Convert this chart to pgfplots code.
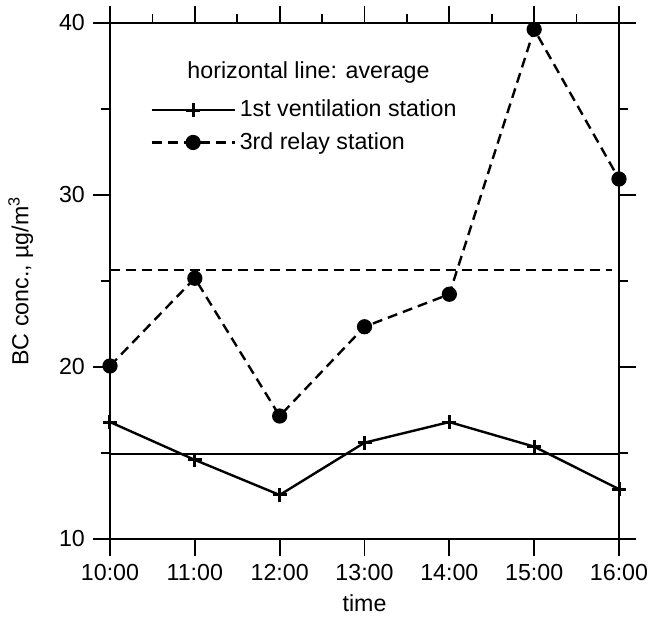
\documentclass[border=0pt]{standalone}
\usepackage{fontspec}
\setmainfont{Liberation Sans}
\usepackage{pgfplots}
\pgfplotsset{compat=1.18}
\begin{document}
\fontsize{11.6}{13.9}\selectfont
\begin{tikzpicture}
\useasboundingbox (-55pt,-44pt) rectangle (270.5pt,269.5pt);
\pgfplotsset{
  common/.style={
    scale only axis, width=254.5pt, height=258pt,
    xmin=10, xmax=16, ymin=10, ymax=40,
    tick align=outside,
    major tick length=8.5pt, minor tick length=4.5pt,
    every tick/.append style={black, line width=0.9pt},
    /pgf/number format/assume math mode=true,
    tick label style={font=\fontsize{11.6}{13.9}\selectfont},
    label style={font=\fontsize{11.6}{13.9}\selectfont},
  }
}
\begin{axis}[common,
  clip=false,
  axis line style={line width=0.9pt},
  xtick={10,11,12,13,14,15,16},
  xticklabels={10:00,11:00,12:00,13:00,14:00,15:00,16:00},
  xtick pos=bottom,
  ytick={10,20,30,40}, minor ytick={15,25,35},
  ytick pos=both, yticklabel pos=left,
  xlabel={time}, ylabel={BC conc., µg/m\textsuperscript{3}},
  ylabel style={yshift=5pt},
  xlabel style={yshift=1pt},
  legend style={draw=none, fill=none, at={(rel axis cs:0.0786,0.867)}, anchor=north west,
    row sep=2pt, font=\fontsize{11.6}{13.9}\selectfont, inner xsep=0pt},
  legend cell align=left,
  legend image code/.code={\draw[mark repeat=2,mark phase=2,#1] plot coordinates {(0pt,0pt)(20.75pt,0pt)(41.5pt,0pt)};},
]
\addplot[black, line width=1.2pt, mark=+, mark size=3.5pt, mark options={line width=1.5pt, solid}]
  coordinates {(10,16.8) (11,14.6) (12,12.56) (13,15.6) (14,16.8) (15,15.37) (16,12.9)};
\addlegendentry{1st ventilation station}
\addplot[black, line width=1.2pt, dash pattern=on 5pt off 3pt, mark=*, mark size=3.2pt, mark options={solid}]
  coordinates {(10,20.06) (11,25.16) (12,17.15) (13,22.34) (14,24.23) (15,39.63) (16,30.93)};
\addlegendentry{3rd relay station}
\addplot[black, line width=1.2pt, forget plot] coordinates {(10,14.95) (16,14.95)};
\addplot[black, line width=1.2pt, dash pattern=on 5pt off 3pt, forget plot] coordinates {(10,25.64) (15.92,25.64)};
\node at (rel axis cs:0.39,0.905) {horizontal line: average};
\end{axis}
\begin{axis}[common,
  axis line style={draw=none},
  xtick={10,11,12,13,14,15,16}, minor xtick={10.5,11.5,12.5,13.5,14.5,15.5},
  xticklabels={}, xtick pos=top,
  ytick=\empty,
]
\end{axis}
\end{tikzpicture}
\end{document}
